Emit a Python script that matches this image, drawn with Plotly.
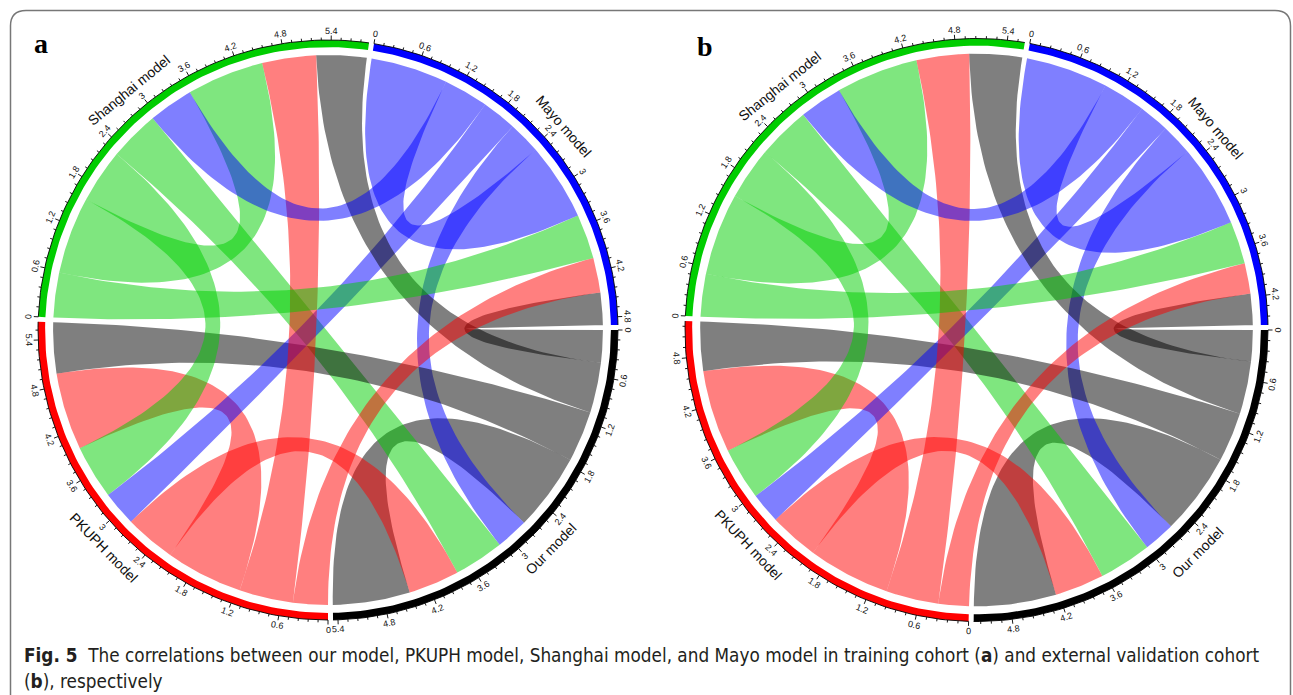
import math
import plotly.graph_objects as go

# ---- data -----------------------------------------------------------------
sectors = ["Our model", "PKUPH model", "Shanghai model", "Mayo model"]
sector_colors = ["#000000", "#FF0000", "#00CD00", "#0000FF"]
link_rgb = [(0, 0, 0), (255, 0, 0), (0, 205, 0), (0, 0, 255)]

# pairwise correlations, rows/columns follow `sectors`
corr_training = [
    [1.00, 0.66, 0.65, 0.42],
    [0.66, 1.00, 0.70, 0.45],
    [0.65, 0.70, 1.00, 0.58],
    [0.42, 0.45, 0.58, 1.00],
]
corr_validation = [
    [1.00, 0.60, 0.64, 0.38],
    [0.60, 1.00, 0.64, 0.37],
    [0.64, 0.64, 1.00, 0.52],
    [0.38, 0.37, 0.52, 1.00],
]
panels = [corr_training, corr_validation]
panel_letters = ["a", "b"]

major_step = 0.6
minor_per_major = 5

caption_line1 = ("<b>Fig. 5</b>  The correlations between our model, PKUPH model, "
                 "Shanghai model, and Mayo model in training cohort (<b>a</b>) "
                 "and external validation cohort")
caption_line2 = "(<b>b</b>), respectively"

# ---- layout constants -------------------------------------------------------
W, H = 1293, 695
centers = [(328.0, 330.0), (976.5, 330.0)]
radii = [290.0, 291.5]
GAP = 1.0            # degrees between sectors
START = 90.0         # first sector starts at 3 o'clock, running clockwise
LINK_ORDER = [3, 2, 1, 0]   # order of link roots inside each sector
ALPHA = 0.5

fig = go.Figure()
annotations = []


def polar(cx, cy, r, th):
    a = math.radians(th)
    return cx + r * math.sin(a), cy - r * math.cos(a)


def arc(cx, cy, r, th1, th2, n=40):
    pts = []
    for k in range(n + 1):
        th = th1 + (th2 - th1) * k / n
        pts.append(polar(cx, cy, r, th))
    return pts


def bezier(cx, cy, p, q, n=70):
    # quadratic curve whose control point sits at the circle centre
    pts = []
    for k in range(n + 1):
        t = k / n
        a, b = (1 - t) ** 2, t ** 2
        pts.append((cx + a * (p[0] - cx) + b * (q[0] - cx),
                    cy + a * (p[1] - cy) + b * (q[1] - cy)))
    return pts


def fmt(v):
    s = f"{v:.1f}"
    return s[:-2] if s.endswith(".0") else s


def face_angle(th):
    t = th % 360
    if 90 < t < 270:
        ang = t - 180
    else:
        ang = t if t <= 90 else t - 360
    return ang


for pi, mat in enumerate(panels):
    cx, cy = centers[pi]
    R = radii[pi]
    r_bar_out = R
    r_bar_in = R * 0.9755
    r_link = R * 0.948
    n = len(sectors)

    totals = [sum(mat[i]) + sum(mat[j][i] for j in range(n)) for i in range(n)]
    unit = (360 - n * GAP) / sum(totals)
    starts = []
    s = START
    for i in range(n):
        starts.append(s)
        s += totals[i] * unit + GAP

    # root intervals of every link inside each sector
    out_pos = [[None] * n for _ in range(n)]
    in_pos = [[None] * n for _ in range(n)]
    for i in range(n):
        cur = 0.0
        for j in LINK_ORDER:
            out_pos[i][j] = (cur, cur + mat[i][j])
            cur += mat[i][j]
        for j in LINK_ORDER:
            in_pos[i][j] = (cur, cur + mat[j][i])
            cur += mat[j][i]

    def th_of(i, v):
        return starts[i] + v * unit

    # links, column by column
    for j in range(n):
        for i in range(n):
            a1, a2 = (th_of(i, v) for v in out_pos[i][j])
            b1, b2 = (th_of(j, v) for v in in_pos[j][i])
            pts = arc(cx, cy, r_link, a1, a2)
            pts += bezier(cx, cy, polar(cx, cy, r_link, a2), polar(cx, cy, r_link, b1))
            pts += arc(cx, cy, r_link, b1, b2)
            pts += bezier(cx, cy, polar(cx, cy, r_link, b2), polar(cx, cy, r_link, a1))
            rr, gg, bb = link_rgb[i]
            fig.add_trace(go.Scatter(
                x=[p[0] for p in pts], y=[p[1] for p in pts],
                mode="lines", fill="toself",
                fillcolor=f"rgba({rr},{gg},{bb},{ALPHA})",
                line=dict(width=0, color="rgba(0,0,0,0)"),
                hoverinfo="skip", showlegend=False))

    # sector bars
    tick_x, tick_y = [], []
    for i in range(n):
        t1 = starts[i]
        t2 = starts[i] + totals[i] * unit
        pts = arc(cx, cy, r_bar_out, t1, t2, 80) + arc(cx, cy, r_bar_in, t2, t1, 80)
        fig.add_trace(go.Scatter(
            x=[p[0] for p in pts], y=[p[1] for p in pts],
            mode="lines", fill="toself", fillcolor=sector_colors[i],
            line=dict(width=0, color="rgba(0,0,0,0)"),
            hoverinfo="skip", showlegend=False))

        # axis ticks and labels
        minor = major_step / minor_per_major
        k = 0
        while k * minor <= totals[i] + 1e-9:
            v = k * minor
            th = th_of(i, v)
            major = (k % minor_per_major == 0)
            ln = 4.5 if major else 2.5
            p0 = polar(cx, cy, r_bar_out, th)
            p1 = polar(cx, cy, r_bar_out + ln, th)
            tick_x += [p0[0], p1[0], None]
            tick_y += [p0[1], p1[1], None]
            if major:
                lx, ly = polar(cx, cy, R + 9.5, th)
                annotations.append(dict(
                    x=lx, y=ly, xref="x", yref="y", text=fmt(v),
                    showarrow=False, xanchor="center", yanchor="middle",
                    textangle=face_angle(th),
                    font=dict(family="Liberation Sans, Arial, sans-serif",
                              size=9, color="#111111")))
            k += 1
        # arc baseline of the axis
        base = arc(cx, cy, r_bar_out, t1, t2, 80)
        tick_x += [p[0] for p in base] + [None]
        tick_y += [p[1] for p in base] + [None]

        # sector name
        mid = (t1 + t2) / 2
        nx, ny = polar(cx, cy, R + 22, mid)
        annotations.append(dict(
            x=nx, y=ny, xref="x", yref="y", text=sectors[i],
            showarrow=False, xanchor="center", yanchor="middle",
            textangle=face_angle(mid),
            font=dict(family="Liberation Sans, Arial, sans-serif",
                      size=14, color="#111111")))

    fig.add_trace(go.Scatter(
        x=tick_x, y=tick_y, mode="lines",
        line=dict(width=0.9, color="#000000"),
        hoverinfo="skip", showlegend=False))

# panel letters
for (lx, ly), letter in zip([(41, 43), (705, 46)], panel_letters):
    annotations.append(dict(
        x=lx, y=ly, xref="x", yref="y", text=f"<b>{letter}</b>",
        showarrow=False, xanchor="center", yanchor="middle",
        font=dict(family="Liberation Serif, Times New Roman, serif",
                  size=28, color="#000000")))

# caption
cap_font = dict(family="Liberation Sans Narrow, Arial Narrow, DejaVu Sans Condensed, sans-serif",
                size=18.8, color="#231F20")
annotations.append(dict(x=22, y=655, xref="x", yref="y", text=caption_line1,
                        showarrow=False, xanchor="left", yanchor="middle",
                        font=cap_font))
annotations.append(dict(x=22, y=681, xref="x", yref="y", text=caption_line2,
                        showarrow=False, xanchor="left", yanchor="middle",
                        font=cap_font))

# rounded frame around the figure
frame = "M 10.5 700 L 10.5 26 Q 10.5 10.5 26 10.5 L 1275 10.5 Q 1290.5 10.5 1290.5 26 L 1290.5 700"

fig.update_layout(
    width=W, height=H,
    margin=dict(l=0, r=0, t=0, b=0),
    paper_bgcolor="white", plot_bgcolor="white",
    xaxis=dict(range=[0, W], visible=False, fixedrange=True),
    yaxis=dict(range=[H, 0], visible=False, fixedrange=True),
    showlegend=False,
    annotations=annotations,
    shapes=[dict(type="path", path=frame, xref="x", yref="y",
                 line=dict(color="#777777", width=1.5))],
)

fig.write_html("out.html")
